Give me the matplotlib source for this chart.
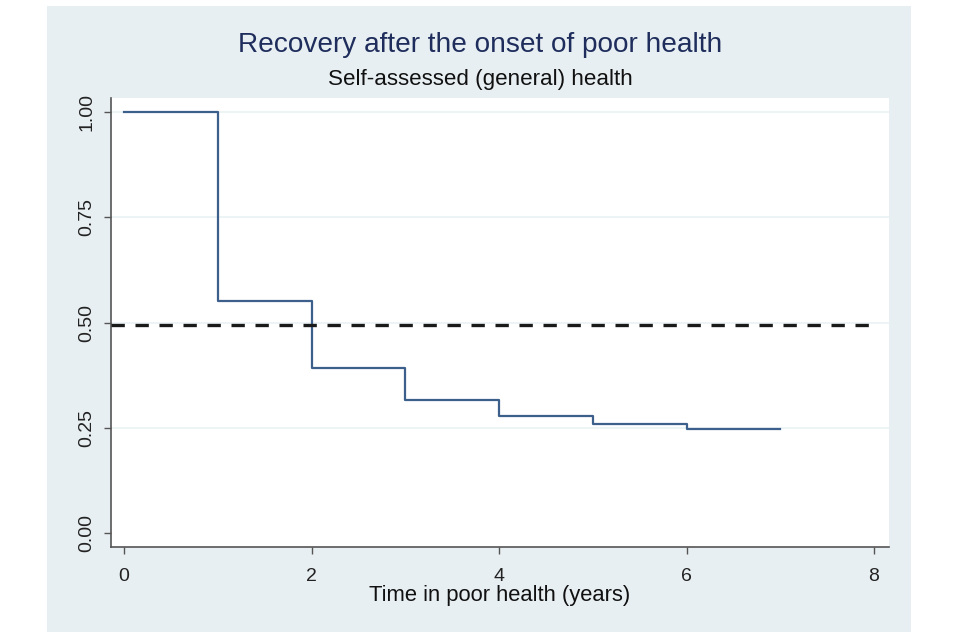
import matplotlib
matplotlib.use('Agg')
from matplotlib import pyplot as plt
from matplotlib.patches import Rectangle

# Kaplan-Meier style step data
years = [0, 1, 2, 3, 4, 5, 6, 7]
share = [1.00, 0.552, 0.393, 0.317, 0.279, 0.258, 0.248, 0.248]
median_line = 0.493

x_ticks = [0, 2, 4, 6, 8]
y_ticks = [0.00, 0.25, 0.50, 0.75, 1.00]
y_labels = ['0.00', '0.25', '0.50', '0.75', '1.00']

plt.rcParams['font.family'] = ['Liberation Sans', 'DejaVu Sans']

fig = plt.figure(figsize=(9.6, 6.4), dpi=100)
fig.patch.set_facecolor('white')

# light graph region behind the plot
fig.patches.append(Rectangle((47 / 960, 1 - 632 / 640), 864 / 960, 626 / 640,
                             transform=fig.transFigure, facecolor='#e8eff2',
                             edgecolor='none', zorder=-5))

ax = fig.add_axes([110.5 / 960, 93 / 640, 778.5 / 960, 449 / 640])
ax.set_zorder(2)
ax.set_facecolor('white')

for y in y_ticks[1:]:
    ax.axhline(y, color='#eaf2f3', linewidth=1.2, zorder=1)

ax.step(years, share, where='post', color='#3c5f8c', linewidth=1.6, zorder=3)
ax.plot([-0.144, 8], [median_line, median_line], color='#1a1a1a',
        linewidth=2.4, linestyle=(0, (4, 3.2)), zorder=4)

ax.set_xlim(-0.144, 8.16)
ax.set_ylim(-0.033, 1.033)

ax.set_xticks(x_ticks)
ax.set_yticks(y_ticks)
ax.set_yticklabels(y_labels, rotation=90, va='center')
ax.tick_params(axis='both', direction='out', length=5, width=1, color='#555555',
               labelsize=14, labelcolor='#222222')
ax.tick_params(axis='x', pad=10)
ax.tick_params(axis='y', pad=6)

for side in ['top', 'right']:
    ax.spines[side].set_visible(False)
for side in ['left', 'bottom']:
    ax.spines[side].set_color('#555555')
    ax.spines[side].set_linewidth(1.2)

ax.set_xlabel('Time in poor health (years)', fontsize=15.8, color='#111111', va='center')
ax.xaxis.set_label_coords(0.5, -0.107)

fig.text(0.5, 1 - 45 / 640, 'Recovery after the onset of poor health',
         ha='center', va='center', fontsize=20.2, color='#1f2d5c', zorder=3)
fig.text(0.5, 1 - 79 / 640, 'Self-assessed (general) health',
         ha='center', va='center', fontsize=16.1, color='#111111', zorder=3)

plt.savefig('out.png', dpi=100)
